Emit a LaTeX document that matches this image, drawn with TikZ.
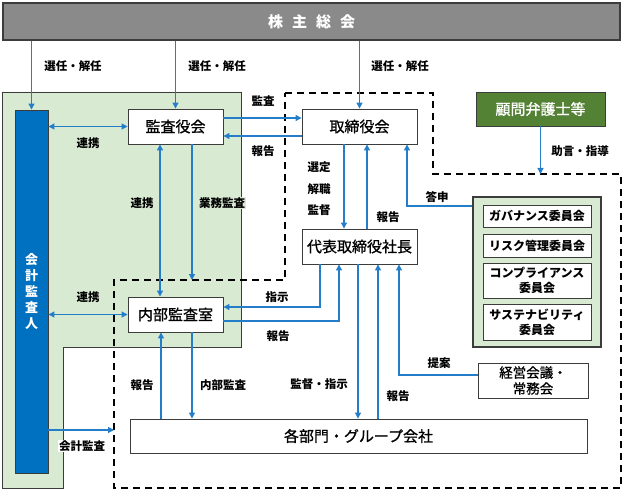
\documentclass[tikz,border=0pt]{standalone}
\usepackage{fontspec}
\setmainfont{Noto Sans CJK JP}
\newfontfamily\boxfont{Noto Sans CJK JP}[RawFeature={embolden=0.9}]
\usepackage{xcolor}
\usetikzlibrary{arrows.meta,positioning,calc}
\definecolor{linkBlue}{RGB}{35,125,200}
\definecolor{paleGreen}{RGB}{217,234,211}
\definecolor{darkGreen}{RGB}{84,130,53}
\definecolor{barBlue}{RGB}{0,112,192}
\definecolor{barGray}{RGB}{138,138,138}
\definecolor{edgeGray}{RGB}{60,60,60}

\begin{document}
\begin{tikzpicture}
    [x=1pt,y=-1pt,inner sep=1pt,
     >={Triangle[length=6pt,width=6pt]},
     box/.style={rectangle,draw=edgeGray,fill=white,line width=0.9pt,font=\boxfont\fontsize{15}{18}\selectfont},
     smallbox/.style={box,align=center,font=\bfseries\fontsize{12}{15}\selectfont},
     topbar/.style={rectangle,draw=edgeGray,fill=barGray,line width=1.6pt,text=white,font=\bfseries\fontsize{15}{18}\selectfont},
     lbl/.style={font=\bfseries\fontsize{11.5}{14}\selectfont},
     link/.style={draw=linkBlue,line width=1.1pt}]
    \useasboundingbox (0,0) rectangle (624,492);

    \fill[paleGreen,draw=edgeGray,line width=0.8pt] (2,92) -- (241,92) -- (241,347) -- (63,347) -- (63,488) -- (2,488) -- cycle;
    \draw[line width=1.8pt,dash pattern=on 7pt off 5pt] (285,93) -- (433,93) -- (433,174) -- (621,174) -- (621,488) -- (114,488) -- (114,280) -- (285,280) -- cycle;

    \node (kabu) at (311.5,21.5) [topbar,minimum width=617pt,minimum height=37pt] {株\hspace{0.6em}主\hspace{0.6em}総\hspace{0.6em}会};
    \node (kaikei) at (31.5,291.5) [rectangle,draw=edgeGray,fill=barBlue,line width=0.9pt,minimum width=33pt,minimum height=363pt,align=center,text=white,font=\bfseries\fontsize{13}{16}\selectfont] {会\\計\\監\\査\\人};
    \node (kansa) at (175.5,126.5) [box,minimum width=95pt,minimum height=35pt] {監査役会};
    \node (torishimari) at (359.5,126.5) [box,minimum width=115pt,minimum height=35pt] {取締役会};
    \node (shacho) at (359.5,246.5) [box,minimum width=115pt,minimum height=35pt] {代表取締役社長};
    \node (naibu) at (175.5,314.5) [box,minimum width=95pt,minimum height=35pt] {内部監査室};
    \node (kakubu) at (358.5,436) [box,minimum width=457pt,minimum height=34pt] {各部門・グループ会社};
    \node (komon) at (540.5,109) [box,fill=darkGreen,text=white,minimum width=129pt,minimum height=34pt] {顧問弁護士等};

    \node (iinkai) at (537,272) [rectangle,draw=edgeGray,fill=paleGreen,line width=1.2pt,minimum width=128pt,minimum height=150pt] {};
    \node (gov) at (537,216) [smallbox,minimum width=108pt,minimum height=22pt] {ガバナンス委員会};
    \node (risk) at (537,245.5) [smallbox,minimum width=108pt,minimum height=23pt] {リスク管理委員会};
    \node (comp) at (537,280.5) [smallbox,minimum width=108pt,minimum height=35pt] {コンプライアンス\\委員会};
    \node (sus) at (537,322) [smallbox,minimum width=108pt,minimum height=36pt] {サステナビリティ\\委員会};
    \node (keiei) at (533,380.5) [box,align=center,font=\boxfont\fontsize{13.5}{16}\selectfont,minimum width=110pt,minimum height=35pt] {経営会議・\\常務会};

    \coordinate (gyomu) at (192,280);
    \coordinate (kaikeiend) at (114,430);

    \draw[link,->] (kabu.south -| kaikei) -- (kaikei.north);
    \draw[link,->] (kabu.south -| kansa) -- (kansa.north);
    \draw[link,->] (kabu.south -| torishimari) -- (torishimari.north);
    \draw[link,->] (komon.south) -- (komon.south |- 0,174);

    \draw[link,<->] (kaikei.east |- kansa) -- (kansa.west);
    \draw[link,<->] (kaikei.east |- naibu) -- (naibu.west);
    \draw[link,->] (kaikei.east |- kaikeiend) -- (kaikeiend);

    \draw[link,<->] ([xshift=-15.5pt]kansa.south) -- ([xshift=-15.5pt]naibu.north);
    \draw[link,->] ([xshift=16.5pt]kansa.south) -- (gyomu);

    \draw[link,->] ([yshift=8.5pt]kansa.east) -- ([yshift=8.5pt]torishimari.west);
    \draw[link,->] ([yshift=-9.5pt]torishimari.west) -- ([yshift=-9.5pt]kansa.east);

    \draw[link,->] ([xshift=-15.5pt]torishimari.south) -- ([xshift=-15.5pt]shacho.north);
    \draw[link,->] ([xshift=7.5pt]shacho.north) -- ([xshift=7.5pt]torishimari.south);
    \draw[link,->] ([yshift=66pt]iinkai.west) -| ([xshift=47.5pt]torishimari.south);

    \draw[link,->] ([xshift=-39.5pt]shacho.south) |- ([yshift=7.5pt]naibu.east);
    \draw[link,->] ([yshift=-6.5pt]naibu.east) -| ([xshift=-20.5pt]shacho.south);

    \draw[link,->] ([xshift=-1.5pt]shacho.south) -- ([xshift=-1.5pt]shacho.south |- kakubu.north);
    \draw[link,->] ([xshift=18.5pt]shacho.south |- kakubu.north) -- ([xshift=18.5pt]shacho.south);
    \draw[link,->] ([yshift=5.5pt]keiei.west) -| ([xshift=39.5pt]shacho.south);

    \draw[link,->] ([xshift=16.5pt]naibu.south) -- ([xshift=16.5pt]naibu.south |- kakubu.north);
    \draw[link,->] ([xshift=-14.5pt]naibu.south |- kakubu.north) -- ([xshift=-14.5pt]naibu.south);

    \node (l1) at (73,66) [lbl] {選任・解任};
    \node (l2) at (217,66) [lbl] {選任・解任};
    \node (l3) at (400,66) [lbl] {選任・解任};
    \node (l4) at (88,143) [lbl] {連携};
    \node (l5) at (88,297) [lbl] {連携};
    \node (l6) at (142,203) [lbl] {連携};
    \node (l7) at (222,203) [lbl,fill=paleGreen] {業務監査};
    \node (l8) at (263,101) [lbl] {監査};
    \node (l9) at (263,151) [lbl] {報告};
    \node (l10) at (319,189) [lbl,align=center,font=\bfseries\fontsize{11.5}{21.5}\selectfont] {選定\\解職\\監督};
    \node (l11) at (388,217) [lbl] {報告};
    \node (l12) at (437,197) [lbl] {答申};
    \node (l13) at (580,151) [lbl] {助言・指導};
    \node (l14) at (277,297) [lbl] {指示};
    \node (l15) at (278,336) [lbl] {報告};
    \node (l16) at (142,385) [lbl] {報告};
    \node (l17) at (223,385) [lbl] {内部監査};
    \node (l18) at (319,384) [lbl] {監督・指示};
    \node (l19) at (398,396) [lbl] {報告};
    \node (l20) at (439,363) [lbl] {提案};
    \node (l21) at (82,446) [lbl,fill=white] {会計監査};
\end{tikzpicture}
\end{document}
